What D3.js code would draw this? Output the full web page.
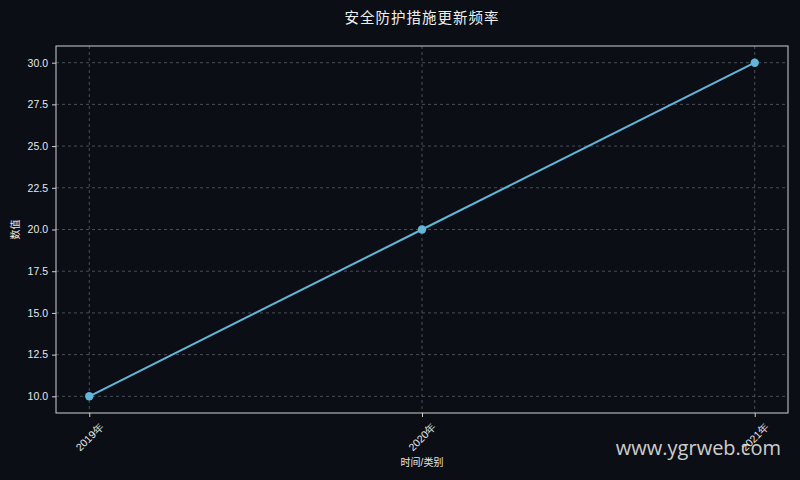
<!DOCTYPE html>
<html><head><meta charset="utf-8">
<script src="https://cdn.jsdelivr.net/npm/d3@7/dist/d3.min.js"></script>
<style>
html,body{margin:0;padding:0;background:#0b0e15;}
svg{display:block;font-family:"Liberation Sans","Noto Sans CJK SC",sans-serif;}
</style></head><body>
<svg id="c" width="800" height="480"></svg>
<script>
const categories = ["2019年", "2020年", "2021年"];
const values = [10, 20, 30];
const yTicks = [10.0, 12.5, 15.0, 17.5, 20.0, 22.5, 25.0, 27.5, 30.0];
const titleText = "安全防护措施更新频率";
const xLabel = "时间/类别";
const yLabel = "数值";

const svg = d3.select("#c");
const W = 800, H = 480;
const m = {left:56, right:12, top:46, bottom:67};
const iw = W - m.left - m.right, ih = H - m.top - m.bottom;

svg.append("rect").attr("width",W).attr("height",H).attr("fill","#0b0e15");

const x = d3.scaleLinear().domain([-0.1, categories.length - 0.9]).range([m.left, m.left+iw]);
const y = d3.scaleLinear().domain([9, 31]).range([m.top+ih, m.top]);

const g = svg.append("g");
// grid
g.selectAll(".gy").data(yTicks).enter().append("line")
  .attr("x1", m.left).attr("x2", m.left+iw)
  .attr("y1", d=>y(d)).attr("y2", d=>y(d))
  .attr("stroke","#5a5e66").attr("stroke-width",0.8).attr("stroke-dasharray","3,3");
g.selectAll(".gx").data(categories).enter().append("line")
  .attr("x1", (d,i)=>x(i)).attr("x2", (d,i)=>x(i))
  .attr("y1", m.top).attr("y2", m.top+ih)
  .attr("stroke","#5a5e66").attr("stroke-width",0.8).attr("stroke-dasharray","3,3");

// axes
const yAxis = d3.axisLeft(y).tickValues(yTicks).tickFormat(d3.format(".1f")).tickSize(4).tickPadding(4);
const ya = svg.append("g").attr("transform",`translate(${m.left},0)`).call(yAxis);
ya.select(".domain").remove();
ya.selectAll("line").attr("stroke","#d0d0d0");
ya.selectAll("text").attr("fill","#e8e8e8").attr("font-size","10.5px");

const xAxis = d3.axisBottom(x).tickValues(d3.range(categories.length)).tickFormat(i=>categories[i]).tickSize(4);
const xa = svg.append("g").attr("transform",`translate(0,${m.top+ih})`).call(xAxis);
xa.select(".domain").remove();
xa.selectAll("line").attr("stroke","#d0d0d0");
xa.selectAll("text").attr("fill","#e8e8e8").attr("font-size","10.5px")
  .attr("text-anchor","middle").attr("dy","0.35em").attr("y",0)
  .attr("transform","translate(0,24) rotate(-45)");

// frame
svg.append("rect").attr("x",m.left).attr("y",m.top).attr("width",iw).attr("height",ih)
  .attr("fill","none").attr("stroke","#d0d0d0").attr("stroke-width",1);

// line
const line = d3.line().x((d,i)=>x(i)).y(d=>y(d));
svg.append("path").datum(values).attr("d",line).attr("fill","none")
  .attr("stroke","#62b6d9").attr("stroke-width",2);
svg.selectAll(".pt").data(values).enter().append("circle")
  .attr("cx",(d,i)=>x(i)).attr("cy",d=>y(d)).attr("r",4.2).attr("fill","#62b6d9");

// title & labels
svg.append("text").attr("x", m.left+iw/2).attr("y",23).attr("text-anchor","middle")
  .attr("fill","#f0f0f0").attr("font-size","14.5px").attr("letter-spacing","1px").text(titleText);
svg.append("text").attr("x", m.left+iw/2).attr("y",466).attr("text-anchor","middle")
  .attr("fill","#e8e8e8").attr("font-size","10px").text(xLabel);
svg.append("text").attr("transform",`translate(19,${m.top+ih/2}) rotate(-90)`).attr("text-anchor","middle")
  .attr("fill","#e8e8e8").attr("font-size","10px").text(yLabel);

// watermark
svg.append("text").attr("x",781).attr("y",455).attr("text-anchor","end")
  .attr("font-family","'Open Sans','Noto Sans',sans-serif")
  .attr("fill","#e6e6e6").attr("fill-opacity",0.9).attr("font-size","20px").text("www.ygrweb.com");
</script>
</body></html>
